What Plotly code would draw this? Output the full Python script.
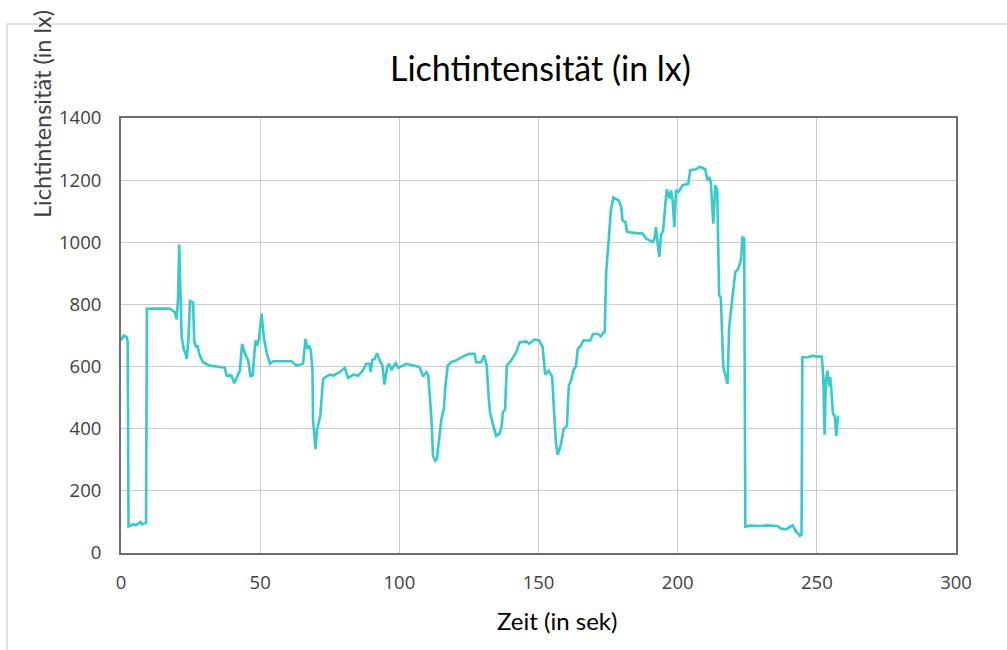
import plotly.graph_objects as go

zeit = [0.0, 1.0, 2.0, 2.4, 2.7, 3.5, 4.5, 5.5, 6.5, 7.0, 7.5, 8.5, 9.0, 9.3, 12.0, 15.0, 17.6, 19.4, 20.0, 20.5,
        20.9, 21.4, 21.8, 22.6, 23.0, 23.6, 24.2, 24.8, 25.9, 26.3, 26.9, 27.5, 28.3, 29.5, 31.9, 34.3, 37.3, 37.9,
        39.7, 40.7, 41.5, 42.7, 43.5, 44.5, 45.7, 46.5, 47.3, 48.3, 49.0, 49.6, 50.5, 51.3, 52.3, 53.5, 54.7, 58.0,
        61.2, 63.0, 65.4, 66.3, 66.9, 67.6, 68.2, 68.8, 69.0, 69.9, 70.4, 71.6, 72.6, 73.8, 75.0, 76.2, 78.6, 80.4,
        81.6, 83.4, 85.2, 86.9, 88.1, 89.3, 89.7, 90.3, 91.1, 92.0, 92.9, 93.9, 94.7, 95.6, 96.4, 97.1, 98.7, 99.6,
        102.5, 105.5, 107.3, 108.5, 109.7, 110.4, 111.5, 112.1, 112.9, 113.5, 114.5, 115.1, 116.0, 116.5, 117.4,
        118.6, 120.4, 122.8, 125.2, 127.0, 127.6, 129.4, 130.4, 131.4, 132.1, 132.6, 133.6, 134.8, 136.0, 136.8,
        137.2, 138.0, 138.6, 140.2, 142.0, 143.2, 145.6, 146.6, 148.5, 150.3, 151.5, 152.4, 153.6, 154.9, 155.7,
        156.3, 156.9, 158.1, 159.0, 160.2, 160.9, 161.7, 162.5, 163.5, 164.1, 165.3, 166.1, 168.6, 169.6, 171.4,
        172.3, 173.8, 174.3, 175.0, 176.0, 176.9, 178.8, 179.7, 180.2, 181.2, 181.8, 183.2, 187.4, 188.6, 191.0,
        191.6, 192.2, 192.8, 193.4, 194.0, 194.8, 195.6, 196.1, 197.0, 197.6, 198.2, 198.8, 199.4, 200.3, 201.8,
        203.8, 204.5, 206.6, 208.0, 209.9, 210.7, 211.3, 211.9, 212.8, 213.5, 214.2, 214.9, 215.5, 216.4, 217.3,
        217.9, 218.5, 219.7, 220.7, 221.8, 222.7, 223.3, 223.9, 224.3, 226.0, 230.0, 232.0, 235.9, 237.1, 238.9,
        240.1, 241.3, 242.4, 243.9, 244.5, 244.8, 246.6, 248.7, 249.7, 251.8, 252.3, 252.8, 253.2, 253.8, 254.4,
        254.8, 255.2, 255.8, 256.4, 257.0, 257.6]

lux = [684, 700, 695, 680, 85, 88, 92, 90, 98, 100, 92, 95, 97, 786, 787, 787, 786, 775, 752, 820,
       993, 820, 695, 652, 648, 625, 684, 811, 806, 684, 662, 668, 635, 614, 603, 600, 596, 571,
       571, 546, 565, 587, 673, 643, 620, 569, 571, 684, 668, 690, 770, 695, 646, 609, 617, 617,
       617, 603, 609, 689, 657, 668, 652, 587, 426, 334, 394, 442, 560, 568, 574, 571, 582, 596,
       563, 574, 571, 587, 609, 609, 582, 621, 625, 643, 620, 603, 542, 598, 609, 589, 611, 596,
       609, 603, 598, 568, 582, 571, 437, 313, 297, 303, 383, 431, 463, 532, 603,
       614, 620, 632, 641, 641, 614, 614, 636, 603, 500, 453, 415, 377, 384, 409,
       453, 463, 603, 620, 646, 678, 681, 673, 687, 684, 662, 574, 587, 568, 437,
       351, 316, 351, 399, 409, 539, 555, 587, 603, 657, 668, 684, 684, 705, 705,
       697, 713, 900, 990, 1103, 1144, 1135, 1114, 1071, 1065, 1035, 1031, 1028, 1012, 1001,
       1010, 1049, 998, 953, 1023, 1039, 1125, 1170, 1141, 1167, 1135, 1049, 1168, 1162, 1184,
       1188, 1232, 1235, 1243, 1235, 1200, 1210, 1195, 1060, 1184, 1168, 829, 823, 598, 566,
       544, 727, 813, 904, 915, 942, 1015, 1012, 85, 88, 87, 89, 87, 79, 76,
       82, 89, 71, 55, 60, 630, 630, 635, 632, 632, 566, 381, 553, 587, 536,
       566, 525, 447, 442, 377, 442]

x_ticks = [0, 50, 100, 150, 200, 250, 300]
y_ticks = [0, 200, 400, 600, 800, 1000, 1200, 1400]

title_text = "Lichtintensität (in lx)"
x_title = "Zeit (in sek)"
y_title = "Lichtintensität (in lx)"

W, H = 1007, 650
L, R, T, B = 121, 956, 118, 553

fig = go.Figure()
fig.add_trace(go.Scatter(x=zeit, y=lux, mode="lines",
                         line=dict(color="#33CCCC", width=2.6), showlegend=False))

pw = R - L
ph = B - T

def px_x(p):
    return (p - L) / pw

def px_y(p):
    return (B - p) / ph

fig.update_layout(
    width=W, height=H,
    margin=dict(l=L, r=W - R, t=T, b=H - B),
    paper_bgcolor="white", plot_bgcolor="white",
    font=dict(family="Open Sans", size=18, color="#404040"),
    xaxis=dict(range=[0, 300], tickvals=x_ticks, showgrid=True, gridcolor="#cccccc", gridwidth=1,
               zeroline=False, showline=True, linecolor="#6e6e6e", linewidth=2, mirror=True,
               ticks="outside", ticklen=12, tickcolor="rgba(0,0,0,0)",
               tickfont=dict(family="Open Sans", size=18.5, color="#404040")),
    yaxis=dict(range=[0, 1400], tickvals=y_ticks, showgrid=True, gridcolor="#cccccc", gridwidth=1,
               zeroline=False, showline=True, linecolor="#6e6e6e", linewidth=2, mirror=True,
               ticks="outside", ticklen=14, tickcolor="rgba(0,0,0,0)",
               tickfont=dict(family="Open Sans", size=18.5, color="#404040")),
    shapes=[dict(type="rect", xref="paper", yref="paper",
                 x0=px_x(7), x1=px_x(1030), y0=px_y(680), y1=px_y(24),
                 line=dict(color="#d9d9d9", width=1.5), fillcolor="rgba(0,0,0,0)", layer="below")],
    annotations=[
        dict(text=title_text, xref="paper", yref="paper", x=px_x(540), y=px_y(68),
             showarrow=False, xanchor="center", yanchor="middle",
             font=dict(family="Lato", size=34, color="#000000")),
        dict(text=x_title, xref="paper", yref="paper", x=px_x(557), y=px_y(620),
             showarrow=False, xanchor="center", yanchor="middle",
             font=dict(family="Lato", size=24, color="#000000")),
        dict(text=y_title, xref="paper", yref="paper", x=px_x(42), y=px_y(114),
             showarrow=False, xanchor="center", yanchor="middle", textangle=-90,
             font=dict(family="Lato", size=23.5, color="#404040")),
    ],
)

fig.write_html("out.html", config={"displayModeBar": False},
               post_script="document.body.style.margin='0';document.body.style.overflow='hidden';")
